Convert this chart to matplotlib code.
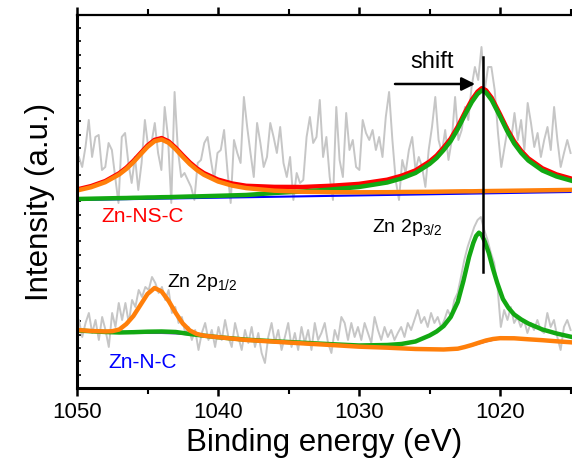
import numpy as np
import matplotlib
matplotlib.use('Agg')
from matplotlib import pyplot as plt
from matplotlib.ticker import MultipleLocator

plt.rcParams['font.family'] = ['Liberation Sans', 'DejaVu Sans']
plt.rcParams['mathtext.default'] = 'regular'

# ---- Zn-NS-C (upper spectrum) ----
raw_ns = [218, 231, 221, 241, 268, 231, 251, 253, 218, 221,
          245, 238, 211, 185, 251, 255, 225, 205, 231, 198,
          225, 268, 241, 245, 265, 235, 218, 281, 251, 185,
          296, 238, 211, 215, 208, 201, 188, 225, 228, 245,
          251, 228, 208, 235, 238, 258, 218, 185, 248, 235,
          225, 291, 261, 235, 211, 265, 245, 221, 231, 265,
          251, 235, 261, 225, 211, 231, 188, 215, 205, 208,
          251, 271, 245, 251,
          288, 231, 251, 211, 188, 281, 228, 211, 275, 238,
          248, 221, 218, 268, 255, 248, 258, 238, 251, 231,
          271, 296, 248, 208, 188, 228, 215, 238, 251, 218,
          231, 221, 201, 238, 261, 291, 248, 235, 258, 228,
          248, 291, 248, 258, 281, 268, 301, 321, 308,
          341, 298, 321, 321, 298, 255, 221, 241, 261, 248,
          275, 248, 268, 238, 285, 265, 241, 255, 231, 248,
          261, 238, 281, 248, 221, 235, 248, 235]
e_raw_ns = np.linspace(1050.1, 1015.0, len(raw_ns))

e_fit_ns = [1050, 1049, 1048, 1047, 1046.5, 1046, 1045.5, 1045, 1044.5, 1044,
            1043.5, 1043, 1042.5, 1042, 1041.5, 1041, 1040, 1039, 1038, 1036,
            1034, 1032, 1030, 1028, 1027, 1026, 1025, 1024.5, 1024, 1023.5,
            1023, 1022.5, 1022, 1021.6, 1021.3, 1021, 1020.6, 1020, 1019.5, 1019,
            1018.5, 1018, 1017, 1016, 1015]
p12_ns = [197.5, 200.8, 205.8, 213.6, 219.1, 225.8, 233.5, 241.1, 246.8, 248.5,
          245.2, 238.7, 231.1, 223.9, 218.0, 213.2, 206.5, 202.4, 199.9, 197.3,
          196.2, 195.8, 195.7, 195.8, 196.0, 196.1, 196.2, 196.3, 196.4, 196.5,
          196.6, 196.7, 196.7, 196.8, 196.9, 196.9, 197.0, 197.1, 197.2, 197.3,
          197.4, 197.5, 197.7, 197.9, 198.1]
p32_ns = [189.0, 189.3, 189.6, 189.9, 190.0, 190.2, 190.3, 190.5, 190.6, 190.8,
          190.9, 191.1, 191.3, 191.5, 191.6, 191.8, 192.2, 192.6, 193.0, 195.0,
          196.5, 198.5, 201.0, 205.5, 209.5, 215.0, 224.0, 230.0, 238.0, 247.0,
          259.0, 273.0, 286.0, 294.0, 297.5, 295.5, 288.0, 271.5, 257.0, 244.5,
          235.0, 227.5, 217.5, 211.5, 207.5]
sum_ns = [198.5, 201.9, 206.9, 214.8, 220.3, 227.1, 234.8, 242.5, 248.1, 249.9,
          246.6, 240.2, 232.7, 225.6, 219.6, 214.9, 208.4, 204.5, 202.2, 201.1,
          201.0, 202.2, 204.1, 208.3, 212.2, 217.6, 226.5, 232.5, 240.5, 249.4,
          261.4, 275.4, 288.3, 296.3, 299.8, 297.8, 290.3, 273.7, 259.2, 246.7,
          237.2, 229.7, 219.7, 213.6, 209.6]
e_bg_ns = [1050, 1015]
bg_ns = [188, 196]

# ---- Zn-N-C (lower spectrum) ----
raw_n = [48, 68, 51, 65, 75, 55, 68, 48, 71, 58,
         41, 75, 61, 85, 68, 85, 65, 88, 81, 98,
         91, 101, 98, 111, 105, 95, 101, 88, 98, 75,
         81, 65, 71, 55, 61, 48, 58, 38, 55, 65,
         48, 58, 41, 61, 48, 68, 51, 41, 65, 51,
         38, 58, 45, 61, 41, 55, 35, 25, 51, 65,
         45, 58, 38, 51, 65, 41, 55, 38, 61, 45,
         58, 38, 65, 48,
         55, 65, 45, 35, 58, 48, 71, 65, 48, 65,
         51, 61, 48, 65, 55, 45, 71, 58, 48, 61,
         51, 58, 48, 55, 61, 51, 65, 58, 68, 78,
         65, 71, 61, 75, 65, 71, 61, 68, 78, 71,
         88, 95, 111, 128, 141, 151, 161, 168, 171, 158,
         148, 135, 125, 101, 61, 78, 68, 81, 65, 71,
         61, 68, 55, 65, 58, 68, 58, 55, 75, 61,
         68, 51, 38, 61, 68, 58]
e_raw_n = np.linspace(1050.1, 1015.0, len(raw_n))

e_p12_n = [1050, 1049, 1048, 1047.5, 1047, 1046.5, 1046, 1045.5, 1045, 1044.5,
           1044, 1043.5, 1043, 1042.5, 1042, 1041.5, 1041, 1040, 1038, 1036,
           1034, 1032, 1030, 1028, 1026, 1024, 1023, 1022.5, 1022, 1021.5,
           1021, 1020.5, 1020, 1019, 1018, 1017, 1016, 1015]
p12_n = [58.0, 57.0, 56.5, 56.8, 58.5, 64.0, 72.0, 83.0, 94.0, 100.0,
         96.5, 87.0, 75.0, 64.5, 57.5, 54.0, 52.3, 50.8, 48.0, 46.3,
         44.6, 43.0, 41.3, 40.3, 39.0, 38.5, 39.3, 41.0, 43.0, 45.3,
         47.5, 49.0, 49.8, 49.7, 48.7, 47.8, 46.7, 45.7]
e_p32_n = [1050, 1048, 1047, 1046, 1045, 1044, 1043, 1042, 1041, 1040,
           1038, 1036, 1032, 1030, 1028, 1027, 1026, 1025.5, 1025, 1024.5,
           1024, 1023.5, 1023, 1022.6, 1022.2, 1021.9, 1021.7, 1021.5, 1021.3, 1021.1,
           1020.8, 1020.5, 1020.2, 1019.8, 1019.4, 1019, 1018.5, 1018, 1017, 1016, 1015]
p32_n = [57.5, 56.0, 55.5, 55.8, 56.3, 56.5, 56.0, 54.0, 52.3, 50.8,
         48.3, 46.7, 43.8, 42.5, 43.0, 44.0, 46.5, 49.5, 52.5, 56.5,
         62.0, 71.0, 86.0, 107.0, 131.0, 145.0, 152.0, 155.3, 153.0, 147.0,
         135.0, 119.0, 105.0, 89.0, 80.0, 73.5, 68.5, 64.5, 58.5, 54.5, 51.3]
e_bg_n = [1050, 1048, 1047, 1046, 1045, 1044, 1043, 1042, 1041, 1040,
          1038, 1036, 1032, 1030, 1028, 1026, 1024, 1023, 1022, 1021,
          1020, 1019, 1017, 1015]
bg_n = [58, 56.5, 55.5, 55, 55, 55, 54.5, 53.5, 52, 50.5,
        48, 46.3, 43, 41.3, 40.3, 39, 38.5, 39.3, 42.5, 46.5,
        49.7, 49.7, 47.5, 45.7]

# shift marker
peak_line_e = 1021.2
peak_line_y = (116, 331)
arrow_from = (1027.45, 304)
arrow_to = (1021.77, 304)


def main():
    fig = plt.figure(figsize=(5.72, 4.67), dpi=100)
    ax = fig.add_axes([0.1346, 0.1692, 0.8654, 0.7987])

    gray = '#c6c6c6'
    red = '#ff0000'
    orange = '#ff7f0a'
    green = '#12a812'
    blue = '#0000ff'
    lw = 3.2

    # upper
    ax.plot(e_raw_ns, raw_ns, color=gray, lw=1.4)
    ax.plot(e_bg_ns, bg_ns, color=blue, lw=1.5)
    ax.plot(e_fit_ns, sum_ns, color=red, lw=lw)
    ax.plot(e_fit_ns, p32_ns, color=green, lw=lw)
    ax.plot(e_fit_ns, p12_ns, color=orange, lw=lw)

    # lower
    ax.plot(e_raw_n, raw_n, color=gray, lw=1.4)
    ax.plot(e_bg_n, bg_n, color='#7040c0', lw=1.5)
    ax.plot(e_p32_n, p32_n, color=green, lw=lw)
    ax.plot(e_p12_n, p12_n, color=orange, lw=lw)

    ax.plot([peak_line_e, peak_line_e], peak_line_y, color='black', lw=1.8)
    ax.annotate('', xy=arrow_to, xytext=arrow_from,
                arrowprops=dict(arrowstyle='-|>', color='black', lw=1.8,
                                mutation_scale=20, shrinkA=0, shrinkB=0))
    ax.text(1024.8, 320, 'shift', fontsize=17, ha='center', va='baseline')
    ax.text(1048.3, 171, 'Zn-NS-C', color=red, fontsize=15, ha='left', va='center')
    ax.text(1047.8, 25, 'Zn-N-C', color=blue, fontsize=15, ha='left', va='center')
    ax.text(1029.1, 156, 'Zn 2p$_{3/2}$', fontsize=14, ha='left', va='baseline')
    ax.text(1043.6, 101, 'Zn 2p$_{1/2}$', fontsize=14, ha='left', va='baseline')

    ax.set_xlim(1050, 1014.9)
    ax.set_ylim(0, 373)
    ax.xaxis.set_major_locator(MultipleLocator(10))
    ax.xaxis.set_minor_locator(MultipleLocator(5))
    ax.yaxis.set_major_locator(MultipleLocator(13.33))
    ax.tick_params(axis='x', which='major', direction='out', length=6, width=1.8,
                   top=True, labelsize=16, pad=4)
    ax.tick_params(axis='x', which='minor', direction='out', length=4, width=1.5, top=True)
    ax.tick_params(axis='y', which='both', direction='in', length=3, width=1.2,
                   labelleft=False, right=False)
    ax.spines['right'].set_visible(False)
    for s in ['left', 'bottom']:
        ax.spines[s].set_linewidth(2.2)
    ax.spines['top'].set_linewidth(1.6)

    ax.set_xlabel('Binding energy (eV)', fontsize=22.5, labelpad=4)
    ax.set_ylabel('Intensity (a.u.)', fontsize=22.5, labelpad=16)

    fig.savefig('out.png', dpi=100)


if __name__ == "__main__":
    main()
